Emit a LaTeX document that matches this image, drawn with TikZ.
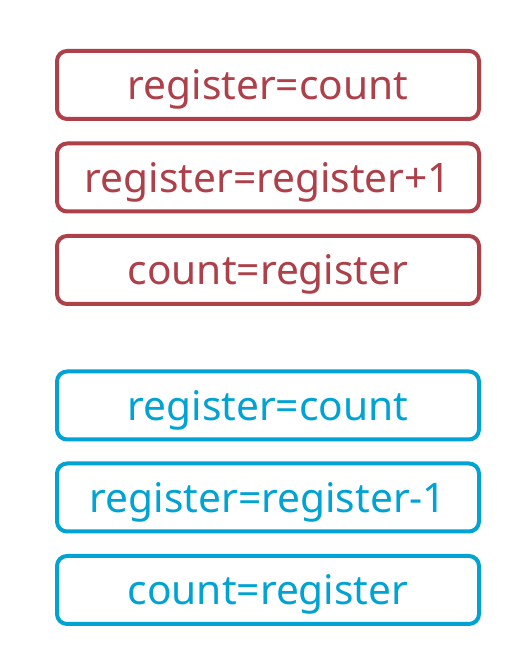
\documentclass[tikz,border=0pt]{standalone}
\usepackage{fontspec}
\setmainfont{Noto Sans}
\usepackage{xcolor}
\definecolor{incred}{RGB}{174,64,74}
\definecolor{decblue}{RGB}{0,163,211}

\begin{document}
\begin{tikzpicture}[line cap=round,line join=round,x=0.75pt,y=0.75pt,
  opbox/.style={draw,line width=3pt,rounded corners=7.5pt,minimum width=316.5pt,minimum height=51pt,inner sep=0pt,text depth=0pt,font=\fontsize{30.5}{36}\selectfont},
  inc/.style={opbox,draw=incred,text=incred},
  dec/.style={opbox,draw=decblue,text=decblue}]
\useasboundingbox (0,0) rectangle (524,655);
% thread incrementing count
\node[inc] (incload) at (268,570) {register=count};
\node[inc] (incadd) at (268,477.5) {register=register+1};
\node[inc] (incstore) at (268,385) {count=register};
% thread decrementing count
\node[dec] (decload) at (268,249.5) {register=count};
\node[dec] (decsub) at (268,157.5) {register=register-1};
\node[dec] (decstore) at (268,65) {count=register};
\end{tikzpicture}
\end{document}
